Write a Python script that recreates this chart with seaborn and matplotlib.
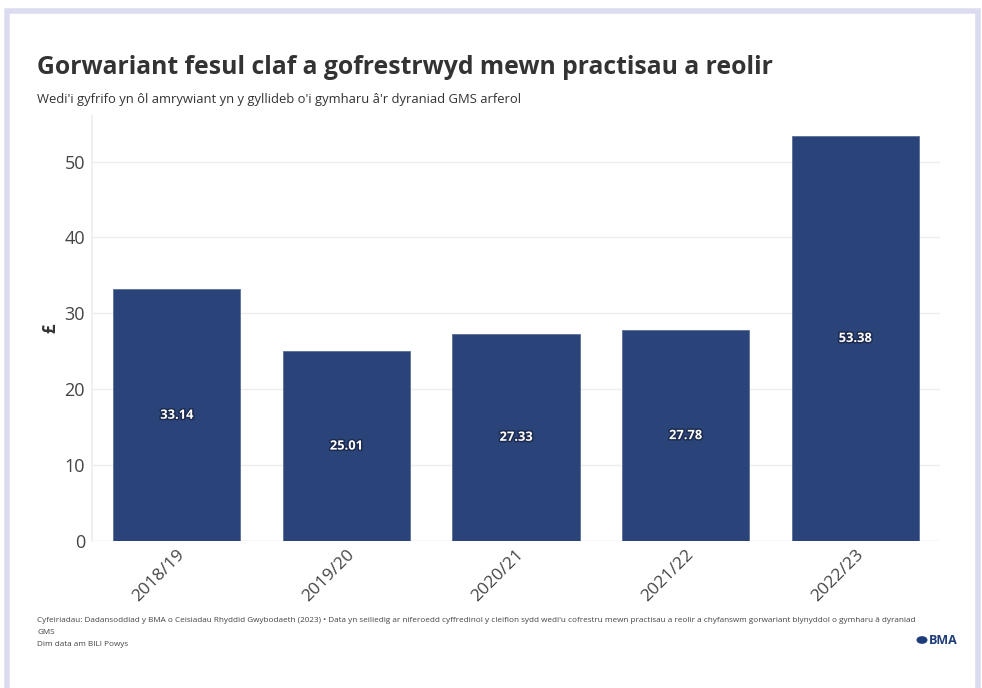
import matplotlib
matplotlib.use("Agg")
import matplotlib.pyplot as plt
import matplotlib.patheffects as pe
from matplotlib.patches import Rectangle, Circle
import pandas as pd
import seaborn as sns

# Data
years = ["2018/19", "2019/20", "2020/21", "2021/22", "2022/23"]
overspend = [33.14, 25.01, 27.33, 27.78, 53.38]
y_ticks = [0, 10, 20, 30, 40, 50]

title = "Gorwariant fesul claf a gofrestrwyd mewn practisau a reolir"
subtitle = "Wedi'i gyfrifo yn ôl amrywiant yn y gyllideb o'i gymharu â'r dyraniad GMS arferol"
source_lines = [
    "Cyfeiriadau: Dadansoddiad y BMA o Ceisiadau Rhyddid Gwybodaeth (2023) \u2022 Data yn seiliedig ar niferoedd "
    "cyffredinol y cleifion sydd wedi'u cofrestru mewn practisau a reolir a chyfanswm gorwariant blynyddol o gymharu â dyraniad",
    "GMS",
    "Dim data am BILI Powys",
]

BAR = "#2a4479"
TEXT = "#333333"

sns.set_theme(style="white")
plt.rcParams["font.family"] = ["Open Sans", "DejaVu Sans"]

df = pd.DataFrame({"year": years, "value": overspend})

fig = plt.figure(figsize=(9.82, 6.88), dpi=100)
fig.patch.set_facecolor("white")

# Card border
fig.patches.append(Rectangle((6.5 / 982, -0.05), (978 - 6.5) / 982, 1 - 10.5 / 688 + 0.05,
                             transform=fig.transFigure, fill=False,
                             edgecolor="#dcdcf0", linewidth=4))

ax = fig.add_axes([92 / 982, (688 - 541) / 688, (940 - 92) / 982, (541 - 116) / 688])
sns.barplot(data=df, x="year", y="value", color=BAR, width=0.75, saturation=1,
            edgecolor="#5a6f99", linewidth=0.6, ax=ax)

ax.set_xlim(-0.5, len(years) - 0.5)
ax.set_ylim(0, 56)
ax.set_yticks(y_ticks)
ax.set_yticklabels([str(t) for t in y_ticks], fontsize=13, color="#444444")
ax.tick_params(axis="y", length=0, pad=5)
ax.tick_params(axis="x", length=0, pad=4)
plt.setp(ax.get_xticklabels(), rotation=45, ha="right", rotation_mode="anchor",
         fontsize=12.5, color="#444444")
ax.set_xlabel("")
ax.set_ylabel("£", fontsize=12, fontweight="bold", color=TEXT, labelpad=4)

ax.grid(axis="y", color="#eeeeee", linewidth=1)
ax.set_axisbelow(True)
for side in ["top", "right", "bottom"]:
    ax.spines[side].set_visible(False)
ax.spines["left"].set_color("#eeeeee")
ax.axhline(0, color="#eeeeee", linewidth=1, zorder=0)

# Value labels centred in each bar
for i, v in enumerate(overspend):
    ax.text(i, v / 2, f"{v:.2f}", ha="center", va="center", color="white",
            fontsize=9.3, fontweight="bold",
            path_effects=[pe.withStroke(linewidth=2.2, foreground="#1c2b4f")])

fig.text(37 / 982, 1 - 68 / 688, title, fontsize=17.8, fontweight="bold",
         color=TEXT, va="center", ha="left")
fig.text(37 / 982, 1 - 99 / 688, subtitle, fontsize=9.4, color=TEXT,
         va="center", ha="left")

for line, y in zip(source_lines, [621, 632, 644]):
    fig.text(37 / 982, 1 - y / 688, line, fontsize=5.9, color="#444444",
             va="center", ha="left")

# BMA logo
fig.patches.append(Circle((922 / 982, 1 - 640 / 688), 5.5 / 982,
                          transform=fig.transFigure, facecolor="#1f3c7a",
                          edgecolor="none"))
fig.text(929 / 982, 1 - 640 / 688, "BMA", fontsize=9, fontweight="bold",
         color="#1f3c7a", va="center", ha="left")

fig.savefig("out.png", dpi=100)
